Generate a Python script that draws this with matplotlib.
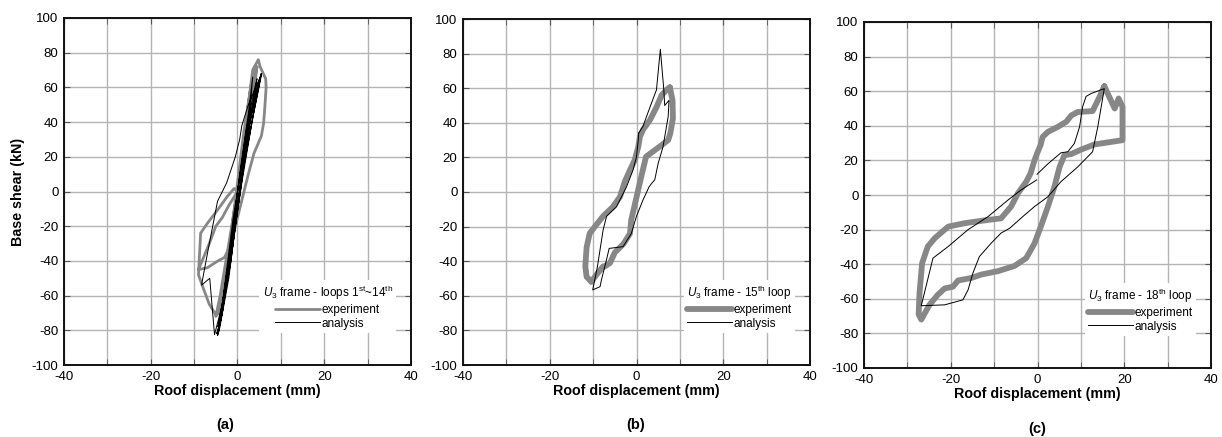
import numpy as np
import matplotlib.pyplot as plt
from matplotlib.ticker import MultipleLocator

plt.rcParams['font.family'] = ['Liberation Sans', 'DejaVu Sans']
plt.rcParams['mathtext.fontset'] = 'custom'
plt.rcParams['mathtext.rm'] = 'Liberation Sans'
plt.rcParams['mathtext.it'] = 'Liberation Sans:italic'
plt.rcParams['axes.unicode_minus'] = False

# (a) loops 1st~14th - experiment (gray)
exp_a_x = [0, 1.5, 3, 3.8, 3.2, 1.5, 0, -1.5, -3, -3.8, -3, -1, 0,
           2, 3.5, 4, 3.8, 2.5, 0.5, -1.5, -3.5, -4.2, -3.5, -1.5, 0,
           1, 2.5, 3.5, 4.8, 5.2, 6.5, 6.6, 6.2, 6, 5.5, 3.8, 2.5, 1, -1, -3, -4.5, -5, -4, -2, 0,
           -0.8, -2.4, -4.7, -7, -8.5, -9, -8, -6.5, -5, -4, -3, -2, -0.5, 1, 2.5, 3.5, 4.5, 4, 2.5, 1,
           -0.5, -2, -3, -4.5, -7, -9, -8.5, -6.5, -5, -3.5, -2, -0.5, 0]
exp_a_y = [0, 30, 58, 68, 62, 35, 5, -25, -50, -62, -55, -20, 0,
           38, 65, 72, 70, 50, 10, -30, -60, -70, -65, -30, 0,
           20, 50, 70, 76, 72, 65, 60, 45, 39, 32, 22, 10, -5, -25, -50, -70, -72, -60, -30, 0,
           1.7, -3, -11, -18.5, -24, -48, -55, -65, -71, -70, -60, -40, -15, 10, 40, 60, 72, 62, 40, 15,
           -10, -33, -38, -40, -44, -45, -42, -30, -20, -15, -8, -2, 0]

# (a) analysis (black)
ana_a_x = [0, 1.5, 3, 3.5, 2.5, 0.5, -1.5, -3.5, -4, -3, -1, 0,
           2, 4, 4.5, 3.5, 1, -1.5, -4, -4.5, -3.5, -1, 0,
           2.5, 5, 5.5, 4.5, 1.5, -1, -3.5, -4.6, -4.2, -2, 0,
           2, 4.5, 5.2, 4, 1, -2, -4, -4.8, -4, -1.5, 0.5,
           3, 5, 5.5, 4.2, 1.5, -1, -3.5, -5.3, -6.4, -8.3, -6.5, -4.6, -2.5, -0.5, 0.5, 1,
           2.5, 4.5, 5.5, 4.8, 2, -0.5, -2.5, -4.5, -3.8, -1.5, 0]
ana_a_y = [0, 25, 50, 66, 45, 10, -30, -65, -75, -55, -15, 0,
           35, 60, 65, 50, 10, -35, -75, -82, -70, -25, 0,
           38, 64, 68, 55, 15, -30, -70, -83, -80, -50, -10,
           30, 58, 66, 50, 5, -45, -75, -82, -76, -40, 0,
           45, 63, 68, 58, 20, -25, -65, -82.6, -50, -54, -30, -5.6, 5, 20, 30, 38,
           50, 62, 67, 58, 25, -20, -50, -78, -70, -30, 0]

# (b) 15th loop
exp_b_x = [7.7, 8.3, 8.4, 7.8, 7.3, 5.2, 2.2, 1.2, 0, -1.2, -1.5, -3, -5, -6.1, -7.3, -7.7,
           -9.6, -10.4, -11.5, -11.8, -11.5, -10.8, -9.6, -7.7, -5.4, -3.8, -2.7, -1.5, -0.4,
           0.4, 0.8, 1.5, 3.1, 4.6, 5.8, 6.9, 7.7]
exp_b_y = [60.5, 53, 42.6, 34, 30, 26, 20.4, 10, -3, -16, -24, -30, -35, -41, -43, -43,
           -49, -52, -49, -43, -32, -24, -20, -14, -8.5, -2.7, 6, 12.7, 18.5,
           26, 32, 36, 41.6, 49, 56, 59, 60.5]
ana_b_x = [0.5, 1.5, 3.1, 4.6, 5.5, 6.3, 6.5, 7.5, 7.3, 6.1, 5, 4.2, 3.5, 2.9, 1.5, 0, -1.2,
           -3.1, -6.3, -6.9, -8.1, -8.4, -10.1, -9, -7.7, -6.9, -4.6, -2.3, -0.8, 0, 0.4, 0.5]
ana_b_y = [34, 38, 49, 59, 82.5, 59, 50, 53, 43.5, 26, 16.6, 7, 5, 3, -4.6, -14, -24,
           -31.6, -32.6, -39, -51, -54.7, -56.6, -43, -22, -14, -8.5, 3, 12.7, 20.4, 30, 34]

# (c) 18th loop
exp_c_x = [15.4, 17.8, 18.7, 19.6, 19.6, 13.1, 10.1, 7.8, 6.2, 5.1, 3.9, 2.4, 0.8, -0.7, -2.6,
           -5.3, -9.1, -13, -15.3, -18.3, -19.5, -21.4, -23, -24.9, -26.8, -27.4, -27.2, -26.6,
           -25.3, -23.7, -20.6, -16.8, -11.4, -8.4, -6.1, -4.5, -2.6, -1.6, -0.7, -0.1, 0.7, 1.2,
           2.4, 4.7, 6.6, 7.8, 9.3, 12.7, 14.3, 15.4]
exp_c_y = [62.9, 50, 55.8, 51, 31.7, 29.2, 26.3, 23.7, 23, 16.3, 4.8, -6.7, -18, -28, -36.5,
           -41, -44, -46, -48, -49.4, -53, -54, -57.7, -63.5, -72, -69, -56.7, -39.4,
           -29.8, -25, -18.3, -16.3, -14.4, -13.5, -6.7, 1, 7.7, 12.5, 20, 24, 28.8, 33.6,
           36.5, 39.4, 42.3, 46, 48, 48.5, 56.7, 62.9]
ana_c_x = [-0.1, 2.4, 5.4, 7, 8.5, 9.7, 10.4, 11.2, 12.4, 15.4, 13.9, 12.7, 9.3, 5.4, 2.4, -0.7,
           -3.4, -6.4, -8.4, -10.7, -13.4, -14.9, -16, -17.2, -21.4, -26.8, -24.1, -20.6, -16,
           -11.4, -6.8, -3.8, -0.2]
ana_c_y = [12, 18, 24.4, 25, 29.8, 39.4, 51, 57, 58.7, 61.5, 39.4, 25, 16.3, 7.7, -1, -6.7,
           -12.5, -19.2, -22, -27.9, -35.6, -45.2, -54.8, -60.6, -63.5, -64, -36.5, -29.8, -20,
           -12.5, -2.9, 2.9, 8.7]

titles = [r"$\mathit{U}_3$ frame - loops 1$^{\rm st}$~14$^{\rm th}$",
          r"$\mathit{U}_3$ frame - 15$^{\rm th}$ loop",
          r"$\mathit{U}_3$ frame - 18$^{\rm th}$ loop"]
panel_labels = ['(a)', '(b)', '(c)']

fig = plt.figure(figsize=(12.22, 4.37), dpi=100)
# axes boxes in pixels: left, top, bottom
boxes = [(64, 18, 365), (463, 19, 365), (864, 22, 368)]
data = [(exp_a_x, exp_a_y, ana_a_x, ana_a_y, 2.0),
        (exp_b_x, exp_b_y, ana_b_x, ana_b_y, 4.2),
        (exp_c_x, exp_c_y, ana_c_x, ana_c_y, 4.2)]
label_x = [225, 636, 1037]
label_y = [425, 425, 429]

gray = '#878787'
for i in range(3):
    l, t, b = boxes[i]
    ax = fig.add_axes([l / 1222, (437 - b) / 437, 347 / 1222, (b - t) / 437])
    ex, ey, ax_, ay, lw = data[i]
    ax.plot(ex, ey, color=gray, lw=lw, solid_joinstyle='round', solid_capstyle='round',
            label='experiment', zorder=2)
    ax.plot(ax_, ay, color='black', lw=0.7, label='analysis', zorder=3)
    ax.set_xlim(-40, 40)
    ax.set_ylim(-100, 100)
    ax.xaxis.set_major_locator(MultipleLocator(20))
    ax.xaxis.set_minor_locator(MultipleLocator(10))
    ax.yaxis.set_major_locator(MultipleLocator(20))
    ax.grid(True, which='both', color='#b4b4b4', lw=1.0)
    ax.set_axisbelow(True)
    ax.tick_params(which='both', direction='in', top=True, right=True, length=4,
                   color='#555555', labelsize=9.5, pad=4)
    for s in ax.spines.values():
        s.set_linewidth(1.4)
        s.set_color('#111111')
    ax.set_xlabel('Roof displacement (mm)', fontsize=10.3, fontweight='bold', labelpad=1)
    if i == 0:
        ax.set_ylabel('Base shear (kN)', fontsize=10.3, fontweight='bold', labelpad=5)
    leg = ax.legend(title=titles[i], loc='lower right', bbox_to_anchor=(0.975, 0.075),
                    fontsize=8.5, title_fontsize=8.5, frameon=True, facecolor='white',
                    edgecolor='none', framealpha=1, handlelength=3.8, handletextpad=0.15,
                    borderpad=0.3, labelspacing=0.15, fancybox=False)
    leg.get_frame().set_linewidth(0)
    fig.text(label_x[i] / 1222, 1 - label_y[i] / 437, panel_labels[i], fontsize=10.5,
             fontweight='bold', ha='center', va='center')

fig.savefig('out.png', dpi=100)
